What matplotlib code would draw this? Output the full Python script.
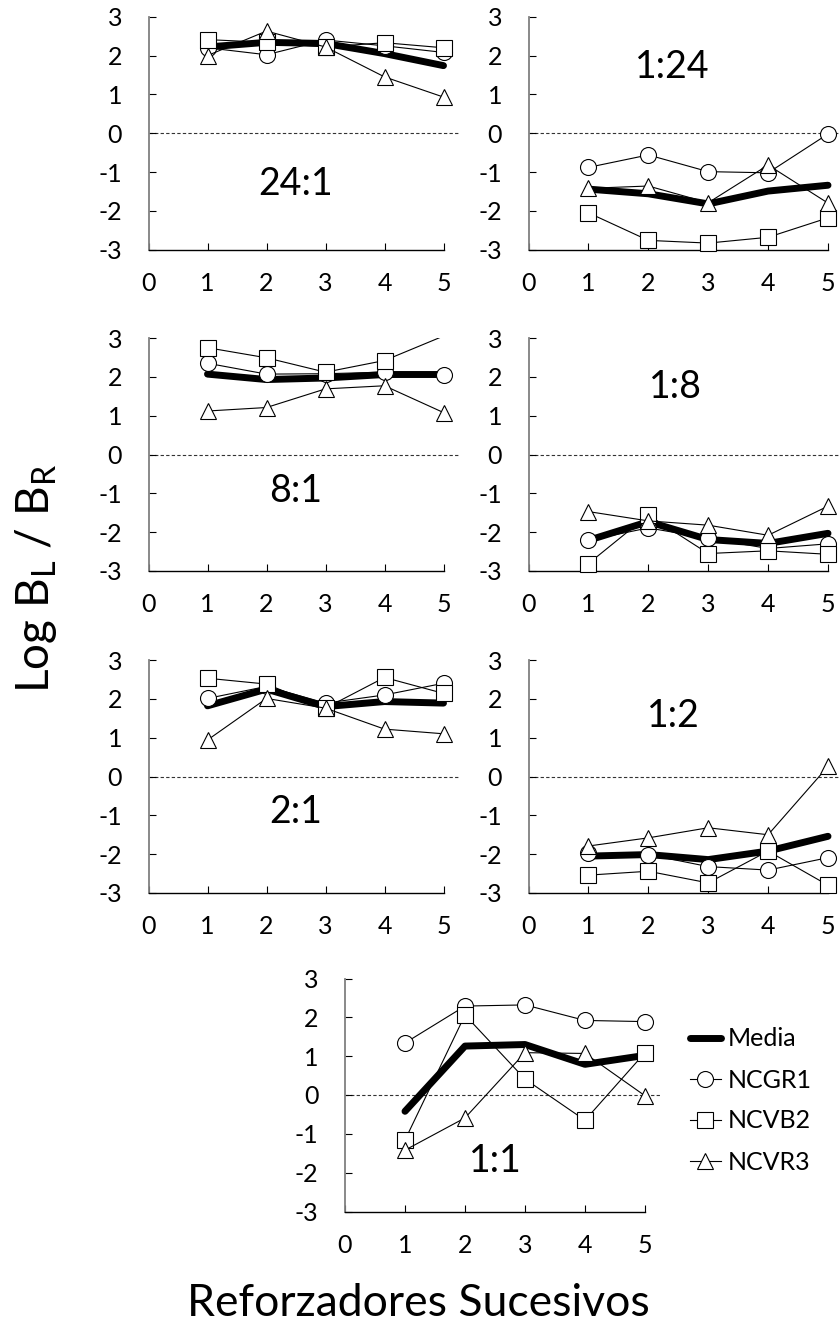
import numpy as np
import matplotlib.pyplot as plt
from matplotlib.lines import Line2D

plt.rcParams['font.family'] = ['Lato', 'DejaVu Sans']
plt.rcParams['mathtext.fontset'] = 'custom'
plt.rcParams['mathtext.rm'] = 'Lato'
plt.rcParams['axes.unicode_minus'] = False

# razones de reforzamiento (izq:der), en el orden de los paneles
condiciones = ["24:1", "1:24", "8:1", "1:8", "2:1", "1:2", "1:1"]
reforzadores = [1, 2, 3, 4, 5]

media = [
	[2.22, 2.34, 2.31, 2.05, 1.74],
	[-1.44, -1.56, -1.82, -1.49, -1.34],
	[2.07, 1.93, 1.97, 2.06, 2.06],
	[-2.21, -1.73, -2.19, -2.29, -2.03],
	[1.82, 2.25, 1.80, 1.93, 1.89],
	[-2.05, -2.01, -2.14, -1.92, -1.54],
	[-0.42, 1.26, 1.30, 0.79, 1.02],
]
ncgr1 = [
	[2.20, 2.02, 2.40, 2.25, 2.08],
	[-0.88, -0.56, -0.99, -1.02, -0.02],
	[2.35, 2.07, 2.08, 2.12, 2.06],
	[-2.21, -1.89, -2.16, -2.42, -2.30],
	[2.01, 2.32, 1.89, 2.10, 2.40],
	[-1.98, -2.01, -2.32, -2.41, -2.09],
	[1.34, 2.29, 2.32, 1.92, 1.89],
]
ncvb2 = [
	[2.41, 2.34, 2.22, 2.33, 2.20],
	[-2.05, -2.76, -2.83, -2.68, -2.18],
	[2.75, 2.49, 2.12, 2.42, 3.05],
	[-2.81, -1.56, -2.55, -2.48, -2.57],
	[2.53, 2.38, 1.76, 2.55, 2.14],
	[-2.54, -2.44, -2.74, -1.92, -2.80],
	[-1.16, 2.06, 0.41, -0.65, 1.09],
]
ncvr3 = [
	[2.00, 2.63, 2.22, 1.45, 0.93],
	[-1.42, -1.36, -1.79, -0.82, -1.80],
	[1.12, 1.21, 1.69, 1.77, 1.08],
	[-1.47, -1.71, -1.82, -2.08, -1.33],
	[0.94, 2.01, 1.76, 1.22, 1.10],
	[-1.79, -1.58, -1.32, -1.50, 0.26],
	[-1.42, -0.59, 1.09, 1.07, -0.02],
]

# posicion de cada panel en pixeles: borde izq, borde sup, px por unidad en x
paneles_px = [
	(148.5, 16.7, 59.0), (528.5, 16.7, 59.9),
	(148.5, 338.0, 59.0), (528.5, 338.0, 59.9),
	(148.5, 660.0, 59.0), (528.5, 660.0, 59.9),
	(345.0, 978.5, 60.0),
]
etiqueta_pos = [(2.5, -1.3), (2.4, 1.7), (2.5, -0.95), (2.45, 1.75),
	(2.5, -0.92), (2.42, 1.55), (2.5, -1.7)]

W, H = 839, 1329
fig = plt.figure(figsize=(W / 100, H / 100), dpi=100)

estilos = [
	(ncgr1, 'o', 11.5),
	(ncvb2, 's', 11),
	(ncvr3, '^', 11.5),
]

def dibujar_serie(ax, y, marker, ms):
	y = np.asarray(y, dtype=float)
	ax.plot(reforzadores, y, color='black', lw=0.8, zorder=3)
	# los marcadores fuera del rango no se dibujan
	ym = np.ma.masked_outside(y, -3, 3)
	ax.plot(reforzadores, ym, ls='none', marker=marker, ms=ms, mfc='white',
		mec='black', mew=0.8, clip_on=False, zorder=3)

axes = []
for i, cond in enumerate(condiciones):
	x0, ytop, ux = paneles_px[i]
	w = 5.3 * ux
	h = 233
	ax = fig.add_axes([x0 / W, 1 - (ytop + h) / H, w / W, h / H])
	axes.append(ax)
	ax.set_xlim(0, 5.3)
	ax.set_ylim(-3, 3)
	ax.hlines(0, 0, 5.27, colors='#333333', lw=0.8, linestyles=(0, (3, 2)), zorder=1)

	ax.plot(reforzadores, media[i], color='black', lw=5, solid_capstyle='round',
		solid_joinstyle='round', zorder=2)
	for datos, marker, ms in estilos:
		dibujar_serie(ax, datos[i], marker, ms)

	ax.text(etiqueta_pos[i][0], etiqueta_pos[i][1], cond, fontsize=27,
		ha='center', va='center')

	for s in ['top', 'right']:
		ax.spines[s].set_visible(False)
	ax.spines['left'].set_bounds(-3, 3)
	ax.spines['left'].set_color('#808080')
	ax.spines['left'].set_linewidth(1.3)
	ax.spines['bottom'].set_bounds(0, 5)
	ax.spines['bottom'].set_linewidth(1.0)
	ax.set_xticks(range(6))
	ax.set_yticks(range(-3, 4))
	ax.tick_params(axis='both', direction='in', length=5, width=0.8, labelsize=18)
	ax.tick_params(axis='x', pad=16)
	ax.tick_params(axis='y', pad=19)

# leyenda junto al panel 1:1
handles = [
	Line2D([], [], color='black', lw=5, solid_capstyle='round'),
	Line2D([], [], color='black', lw=0.8, marker='o', ms=11.5, mfc='white', mew=0.8),
	Line2D([], [], color='black', lw=0.8, marker='s', ms=11, mfc='white', mew=0.8),
	Line2D([], [], color='black', lw=0.8, marker='^', ms=11.5, mfc='white', mew=0.8),
]
fig.legend(handles, ["Media", "NCGR1", "NCVB2", "NCVR3"], loc='upper left',
	bbox_to_anchor=(667 / W, 1 - 1005 / H), frameon=False, fontsize=18,
	handlelength=1.25, handletextpad=0.3, labelspacing=0.72)

fig.text(36 / W, 1 - 578 / H, r'Log B$_\mathrm{L}$ / B$_\mathrm{R}$', rotation=90,
	fontsize=33, ha='center', va='center')
fig.text(418 / W, 1 - 1303 / H, 'Reforzadores Sucesivos', fontsize=32,
	ha='center', va='center')

fig.savefig('out.png', dpi=100)
